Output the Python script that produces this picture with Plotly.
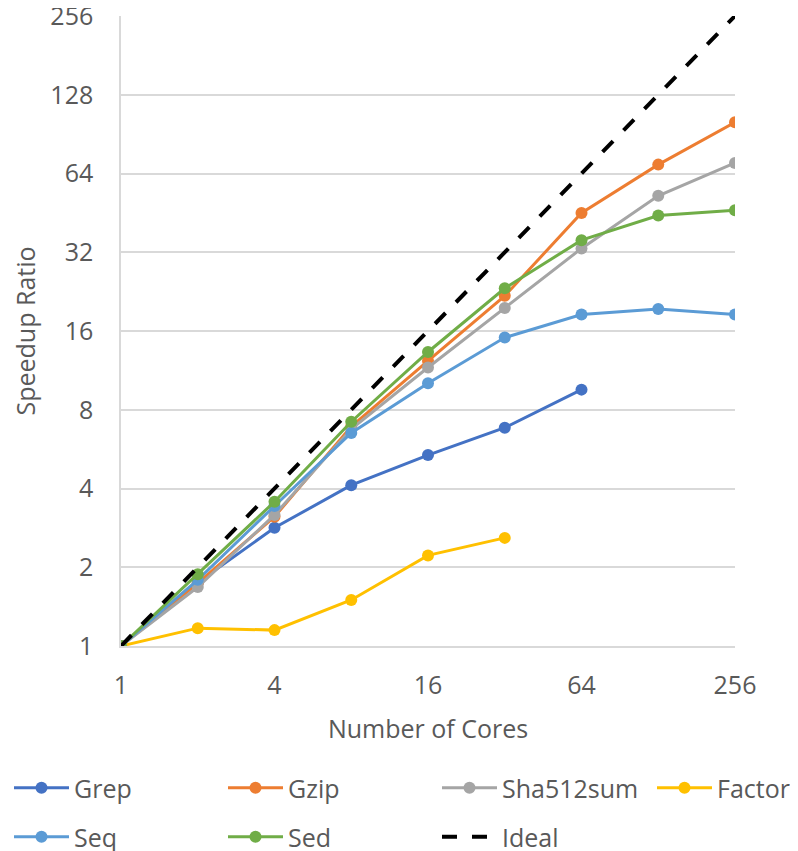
import plotly.graph_objects as go

cores = [1, 2, 4, 8, 16, 32, 64, 128, 256]
grep = [1, 1.75, 2.83, 4.12, 5.37, 6.83, 9.55]
gzip = [1, 1.74, 3.12, 6.9, 12.3, 21.8, 45.2, 69.2, 100.5]
sha512sum = [1, 1.68, 3.17, 6.75, 11.6, 19.6, 33.1, 52.6, 70.2]
factor = [1, 1.17, 1.15, 1.50, 2.22, 2.59]
seq = [1, 1.79, 3.43, 6.52, 10.1, 15.1, 18.5, 19.4, 18.5]
sed = [1, 1.88, 3.56, 7.2, 13.3, 23.3, 35.6, 44.2, 46.3]
ideal = cores

y_ticks = [1, 2, 4, 8, 16, 32, 64, 128, 256]
x_ticks = [1, 4, 16, 64, 256]

FONT = "Open Sans"
TXT = "#595959"

# page body has an 8px margin; figure geometry in px is offset by it
OFF = 8
L, R, T, B = 121 - OFF, 735 - OFF, 16 - OFF, 646 - OFF
W, H = 798 - OFF, 851 - OFF
PW, PH = R - L, B - T

series = [
    ("Grep", grep, "#4472C4"),
    ("Gzip", gzip, "#ED7D31"),
    ("Sha512sum", sha512sum, "#A5A5A5"),
    ("Factor", factor, "#FFC000"),
    ("Seq", seq, "#5B9BD5"),
    ("Sed", sed, "#70AD47"),
]
# legend slot positions (px in page): line-start x, row centre y
slots = [(14, 788), (228, 788), (442, 788), (657, 788),
         (14, 837), (228, 837), (442, 837)]

fig = go.Figure()
legend_ids = ["legend"] + [f"legend{i}" for i in range(2, 8)]
for i, (name, vals, color) in enumerate(series):
    fig.add_trace(go.Scatter(
        x=cores[:len(vals)], y=vals, name=name, mode="lines+markers",
        line=dict(color=color, width=3), marker=dict(color=color, size=12),
        legend=legend_ids[i],
    ))
fig.add_trace(go.Scatter(
    x=cores, y=ideal, name="Ideal", mode="lines",
    line=dict(color="black", width=4, dash="15px,15px"), legend=legend_ids[6],
))

legends = {}
for lid, (sx, sy) in zip(legend_ids, slots):
    legends[lid] = dict(
        x=(sx - OFF - 5 - L) / PW, y=(B - (sy - OFF)) / PH,
        xanchor="left", yanchor="middle",
        font=dict(family=FONT, size=25, color=TXT), itemwidth=55,
        bgcolor="rgba(0,0,0,0)", borderwidth=0,
    )

fig.update_layout(
    width=W, height=H,
    margin=dict(l=L, r=W - R, t=T, b=H - B, autoexpand=False),
    paper_bgcolor="white", plot_bgcolor="white",
    font=dict(family=FONT, size=25, color=TXT),
    showlegend=True,
    **legends,
    xaxis=dict(
        type="log", range=[0, 2.40824], tickvals=x_ticks,
        ticktext=[str(v) for v in x_ticks], automargin=False,
        ticklabeloverflow="allow",
        showgrid=False, showline=True, linecolor="#D9D9D9", linewidth=1.5,
        zeroline=False, ticks="", ticklabelstandoff=16,
        tickfont=dict(family=FONT, size=25, color=TXT),
        title=dict(text="Number of Cores", font=dict(family=FONT, size=25, color=TXT), standoff=21),
    ),
    yaxis=dict(
        type="log", range=[0, 2.40824], tickvals=y_ticks,
        ticktext=[str(v) for v in y_ticks], automargin=False,
        ticklabeloverflow="allow",
        showgrid=True, gridcolor="#D9D9D9", gridwidth=1.5,
        showline=True, linecolor="#D9D9D9", linewidth=1.5,
        zeroline=False, ticks="", ticklabelstandoff=21,
        tickfont=dict(family=FONT, size=25, color=TXT),
        title=dict(text="Speedup Ratio", font=dict(family=FONT, size=25, color=TXT), standoff=10),
    ),
)

fig.write_html("out.html")
